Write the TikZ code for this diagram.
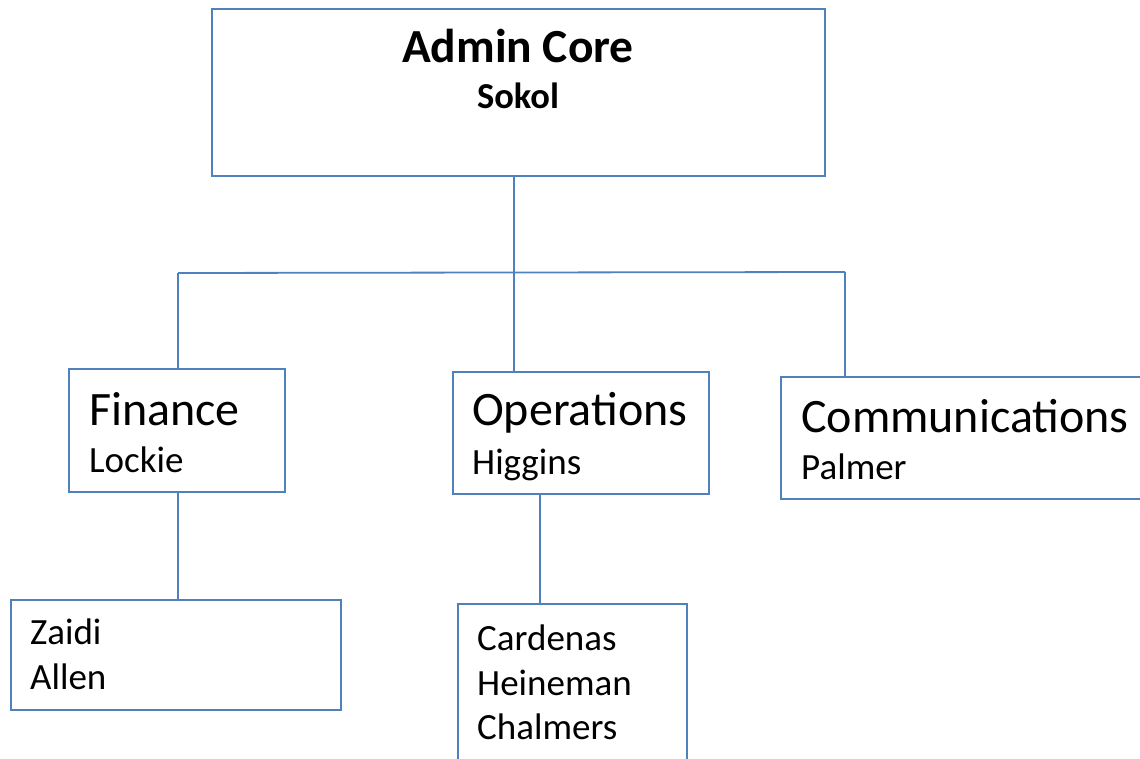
\documentclass[tikz,border=0pt]{standalone}
\usepackage{fontspec}
\setmainfont{Carlito}
\definecolor{boxblue}{HTML}{4F81BD}
\tikzset{
  box/.style={draw=boxblue, line width=1.8pt, inner sep=0pt, rectangle},
  conn/.style={draw=boxblue, line width=1.8pt},
  big/.style={inner sep=0pt, font=\fontsize{48}{56}\selectfont},
  bigb/.style={inner sep=0pt, font=\fontsize{47.5}{56}\selectfont\bfseries},
  midb/.style={inner sep=0pt, font=\fontsize{36.5}{42}\selectfont\bfseries},
  small/.style={inner sep=0pt, font=\fontsize{37}{44}\selectfont},
}
\begin{document}
\begin{tikzpicture}[x=1pt,y=-1pt]
\useasboundingbox (0,0) rectangle (1140,759);
% boxes
\node[box, minimum width=613pt, minimum height=167pt] (admin) at (518.5,92.5) {};
\node[box, minimum width=216pt, minimum height=123pt] (fin) at (177,430.5) {};
\node[box, minimum width=256pt, minimum height=122pt] (ops) at (581,433) {};
\node[box, minimum width=370pt, minimum height=122pt] (com) at (966,438) {};
\node[box, minimum width=330pt, minimum height=110pt] (fsub) at (176,655) {};
\node[box, minimum width=229pt, minimum height=170pt] (osub) at (572.5,689) {};
% texts
\node[bigb, anchor=base] (admint) at (518,63) {Admin Core};
\node[midb, anchor=base] (admins) at (518,109) {Sokol};
\node[big, anchor=base west] (fint) at (89,425) {Finance};
\node[small, anchor=base west] (finp) at (89,472) {Lockie};
\node[big, anchor=base west] (opst) at (472,425) {Operations};
\node[small, anchor=base west] (opsp) at (472,474) {Higgins};
\node[big, anchor=base west] (comt) at (801,432) {Communications};
\node[small, anchor=base west] (comp) at (801,479) {Palmer};
\node[small, anchor=base west] (z1) at (30,644) {Zaidi};
\node[small, anchor=base west] (z2) at (30,689) {Allen};
\node[small, anchor=base west] (c1) at (477,650) {Cardenas};
\node[small, anchor=base west] (c2) at (477,695) {Heineman};
\node[small, anchor=base west] (c3) at (477,739) {Chalmers};
% connectors
\coordinate (j) at (514,273);
\coordinate (jl) at (178,273);
\coordinate (jr) at (845,272);
\coordinate (oc) at (540,500);
\draw[conn] (admin.south -| j) -- (j);
\draw[conn] (jl) -- (jr);
\draw[conn] (jl) -- (fin.north -| jl);
\draw[conn] (j) -- (ops.north -| j);
\draw[conn] (jr) -- (com.north -| jr);
\draw[conn] (fin.south -| jl) -- (fsub.north -| jl);
\draw[conn] (ops.south -| oc) -- (osub.north -| oc);
\end{tikzpicture}
\end{document}
